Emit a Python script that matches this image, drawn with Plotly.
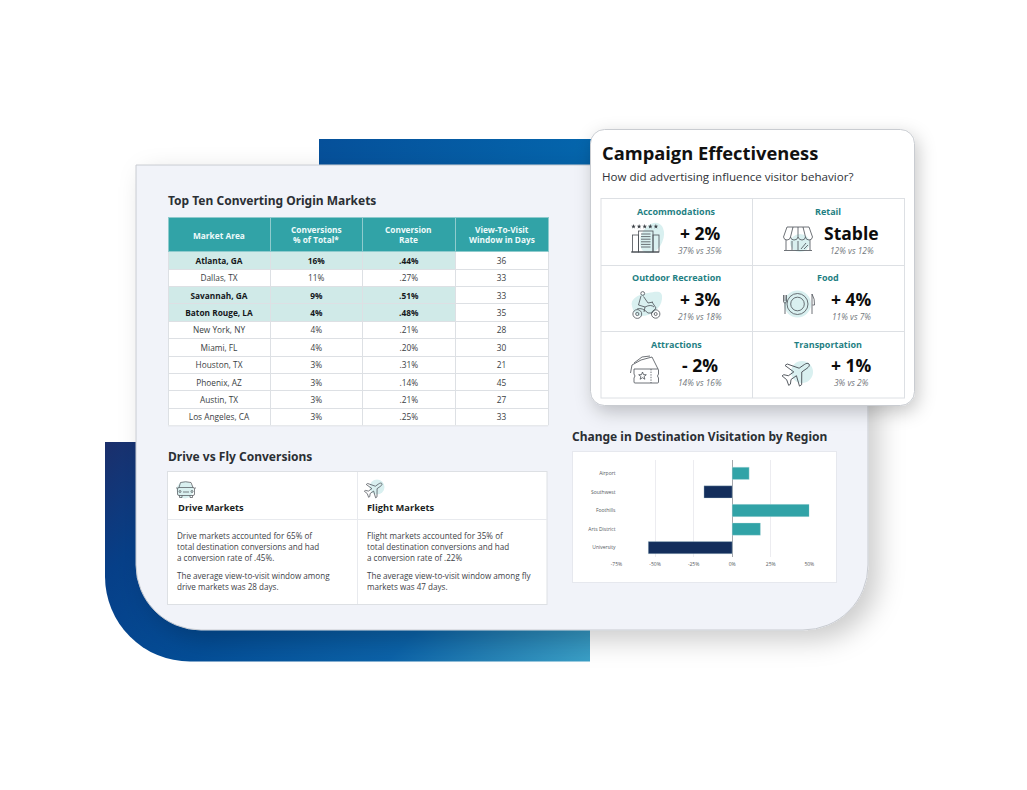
import base64
import math

import plotly.graph_objects as go

W, H = 1027, 790
FONT = "Open Sans"
TEAL = "#31a3a7"
NAVY = "#132e5c"
MINT = "#d0eae8"
LINE = "#dde0e4"
ICON = "#4a4f55"
BLOB = "#d9f0f0"
CLEAR = "rgba(0,0,0,0)"

# table
markets = ["Atlanta, GA", "Dallas, TX", "Savannah, GA", "Baton Rouge, LA", "New York, NY",
           "Miami, FL", "Houston, TX", "Phoenix, AZ", "Austin, TX", "Los Angeles, CA"]
conv_share = ["16%", "11%", "9%", "4%", "4%", "4%", "3%", "3%", "3%", "3%"]
conv_rate = [".44%", ".27%", ".51%", ".48%", ".21%", ".20%", ".31%", ".14%", ".21%", ".25%"]
view_days = ["36", "33", "33", "35", "28", "30", "21", "45", "27", "33"]
highlighted = ["Atlanta, GA", "Savannah, GA", "Baton Rouge, LA"]
table_header = [["Market Area"], ["Conversions", "% of Total*"], ["Conversion", "Rate"],
                ["View-To-Visit", "Window in Days"]]

# bar chart
regions = ["University", "Arts District", "Foothills", "Southwest", "Airport"]
region_change = [-54.4, 18.3, 50, -18.3, 11]
pct_ticks = [-75, -50, -25, 0, 25, 50]

# campaign card
card_labels = ["Accommodations", "Retail", "Outdoor Recreation", "Food", "Attractions", "Transportation"]
card_values = ["+ 2%", "Stable", "+ 3%", "+ 4%", "- 2%", "+ 1%"]
card_notes = ["37% vs 35%", "12% vs 12%", "21% vs 18%", "11% vs 7%", "14% vs 16%", "3% vs 2%"]

drive_lines = ["Drive markets accounted for 65% of", "total destination conversions and had",
               "a conversion rate of .45%.", "The average view-to-visit window among",
               "drive markets was 28 days."]
fly_lines = ["Flight markets accounted for 35% of", "total destination conversions and had",
             "a conversion rate of .22%", "The average view-to-visit window among fly",
             "markets was 47 days."]


def px(x):
    return x / W


def py(y):
    return 1 - y / H


def star(cx, cy, r):
    pts = []
    for i in range(10):
        a = -math.pi / 2 + i * math.pi / 5
        rr = r if i % 2 == 0 else r * 0.42
        pts.append(f"{cx + rr * math.cos(a):.2f},{cy + rr * math.sin(a):.2f}")
    return " ".join(pts)


PLANE = ("M0,-14 C1.6,-14 2.2,-12 2.2,-10 L2.2,-4 L12,3 L12,5.5 L2.2,2.2 L2.2,8.5 L5.5,11.5 L5.5,13.5 "
         "L0,12 L-5.5,13.5 L-5.5,11.5 L-2.2,8.5 L-2.2,2.2 L-12,5.5 L-12,3 L-2.2,-4 L-2.2,-10 C-2.2,-12 -1.6,-14 0,-14Z")


def icons_svg():
    s = []
    # hotel
    s.append(f'<ellipse cx="652" cy="238" rx="11" ry="16" transform="rotate(25 652 238)" fill="{BLOB}"/>')
    for i in range(5):
        s.append(f'<polygon points="{star(633.5 + i * 5.6, 226.5, 2.4)}" fill="#3a3f45"/>')
    g = f'<g fill="none" stroke="{ICON}" stroke-width="0.8">'
    g += '<rect x="638.5" y="231" width="14.5" height="21"/><rect x="632.5" y="235" width="6" height="17"/>'
    g += '<rect x="653" y="235" width="6" height="17"/><path d="M631,252 H659" stroke-width="1.1"/>'
    for i in range(6):
        g += f'<path d="M641,{234 + i * 2.6} H650.5"/>'
    g += '</g>'
    s.append(g)
    # retail
    s.append(f'<ellipse cx="800" cy="243" rx="10" ry="9" fill="{BLOB}"/>')
    g = f'<g fill="none" stroke="{ICON}" stroke-width="0.8">'
    g += '<path d="M787,227 H809 L812.5,237 Q812,240 809,240 Q806,240 805.5,237 Q805,240 802,240 Q799,240 798,237 Q797.5,240 794,240 Q791,240 790.5,237 Q790,240 787,240 Q784,240 783.5,237 Z"/>'
    g += '<path d="M790.5,237 L793,227 M798,237 V227 M805.5,237 L803,227"/>'
    g += '<path d="M786,240 V250 M810,240 V250 M784,250.5 H812" /><path d="M792,241 V250 M798,241 V250 M801,249 L806,243 M804,249 L808,245"/>'
    g += '</g>'
    s.append(g)
    # motorbike
    s.append(f'<path d="M632,306 C630,298 640,294 648,293 C657,291 663,290 662,299 C661,309 650,317 640,316 C635,315 633,311 632,306Z" fill="{BLOB}"/>')
    g = f'<g fill="none" stroke="{ICON}" stroke-width="0.8">'
    g += '<circle cx="637.3" cy="314" r="4.4"/><circle cx="637.3" cy="314" r="1.6"/><circle cx="655.7" cy="314" r="4.2"/><circle cx="655.7" cy="314" r="1.5"/>'
    g += '<circle cx="642.7" cy="293.5" r="1.9"/><path d="M641,296 L638.5,305 L645,307 L644,312 M643.5,296.5 L648,303 L653,302"/>'
    g += '<path d="M637,309 Q642,307 648,313 H652 L656,308 L652,302 M645,307 Q651,304 654,307"/></g>'
    s.append(g)
    # plate
    s.append(f'<circle cx="797.5" cy="304" r="13.5" fill="{BLOB}"/>')
    g = f'<g fill="none" stroke="{ICON}" stroke-width="0.8">'
    g += '<circle cx="797.5" cy="304" r="10.5"/><circle cx="797.5" cy="304" r="6.8"/>'
    g += '<path d="M783.5,295 V301 Q783.5,303 785,303 Q786.5,303 786.5,301 V295 M785,295 V301 M785,303 V314"/>'
    g += '<path d="M812,294 Q815,299 814.5,305 H812.5 M812,294 V314"/></g>'
    s.append(g)
    # tickets
    g = f'<g fill="none" stroke="{ICON}" stroke-width="0.8">'
    g += '<path d="M630.5,373 L632,365 L641,360 L652,357 L658,369"/><path d="M634,363 L642,357 L650,356"/>'
    g += '<path d="M634,369 H657.5 Q658.5,369 658.5,370 V374 Q656.5,376 658.5,378 V382 Q658.5,383 657.5,383 H635 Q634,383 634,382 V378 Q636,376 634,374Z" fill="#ffffff"/>'
    g += '<path d="M651,369 V383" stroke-dasharray="1.4 1.2"/>'
    g += f'<polygon points="{star(642.5, 376, 4)}"/></g>'
    s.append(g)
    # plane, card
    s.append(f'<circle cx="802" cy="372" r="11" fill="{BLOB}"/>')
    s.append(f'<path d="{PLANE}" transform="translate(797,372.5) rotate(55) scale(1.05)" fill="none" stroke="{ICON}" stroke-width="0.8"/>')
    # car
    s.append(f'<circle cx="185" cy="490" r="8.5" fill="{BLOB}"/>')
    g = f'<g fill="none" stroke="{ICON}" stroke-width="0.7">'
    g += '<rect x="177.5" y="487.5" width="17" height="8" rx="1.5"/><path d="M179,487.5 L180.5,482.5 Q185.5,481 191,482.5 L193,487.5 M179.5,495.5 V497.5 H182 V495.5 M190,495.5 V497.5 H192.5 V495.5"/>'
    g += '<path d="M177.5,488 H176 M194.5,488 H196 M183,492 H189"/><circle cx="180" cy="491.5" r="1"/><circle cx="192" cy="491.5" r="1"/></g>'
    s.append(g)
    # plane, drive vs fly
    s.append(f'<circle cx="377" cy="487" r="7.5" fill="{BLOB}"/>')
    s.append(f'<path d="{PLANE}" transform="translate(374,489) rotate(55) scale(0.68)" fill="none" stroke="{ICON}" stroke-width="1"/>')
    return "".join(s)


def background_svg():
    top_blue = '<linearGradient id="a" gradientUnits="userSpaceOnUse" x1="319" y1="0" x2="600" y2="0"><stop offset="0" stop-color="#05509a"/><stop offset="1" stop-color="#0466ad"/></linearGradient>'
    low_blue = ('<linearGradient id="b" gradientUnits="userSpaceOnUse" x1="105" y1="442" x2="457" y2="794">'
                '<stop offset="0" stop-color="#1b2f6b"/><stop offset=".19" stop-color="#063f88"/>'
                '<stop offset=".43" stop-color="#034d96"/><stop offset=".71" stop-color="#0b62a8"/>'
                '<stop offset=".85" stop-color="#2480b4"/><stop offset="1" stop-color="#3a9fc6"/></linearGradient>')
    shadows = ('<filter id="s1" x="-20%" y="-20%" width="140%" height="140%"><feDropShadow dx="10" dy="10" stdDeviation="13" flood-color="#000" flood-opacity=".2"/></filter>'
               '<filter id="s2" x="-20%" y="-20%" width="140%" height="140%"><feDropShadow dx="3" dy="6" stdDeviation="9" flood-color="#000" flood-opacity=".22"/></filter>')
    parts = [f'<svg xmlns="http://www.w3.org/2000/svg" width="{W}" height="{H}" viewBox="0 0 {W} {H}"><defs>{top_blue}{low_blue}{shadows}</defs>']
    parts.append('<rect x="319" y="139" width="290" height="40" fill="url(#a)"/>')
    parts.append('<path d="M105,442 H590 V661.5 H190 A85,85 0 0 1 105,576.5 Z" fill="url(#b)"/>')
    parts.append('<path d="M136,165 H868 V565 A65,65 0 0 1 803,630 H201 A65,65 0 0 1 136,565 Z" fill="#f1f3f9" stroke="#c8cbd1" stroke-width="1" filter="url(#s1)"/>')
    # white boxes behind the chart and the drive/fly text
    parts.append('<rect x="572.5" y="451.5" width="264" height="131" fill="#fff" stroke="#e6e8ee"/>')
    parts.append(f'<rect x="167.5" y="471.5" width="379.5" height="133" fill="#fff" stroke="{LINE}"/>')
    parts.append('<path d="M357.5,472 V604 M168,519.5 H547" stroke="#e8eaee" fill="none"/>')
    # bottom edge of the market table
    parts.append(f'<path d="M168,425.8 H548" stroke="{LINE}" fill="none"/>')
    # campaign card
    parts.append('<rect x="590.5" y="129.5" width="324" height="276" rx="14" fill="#fff" stroke="#c9ccd1" filter="url(#s2)"/>')
    parts.append(f'<rect x="601" y="198.5" width="303.5" height="199.5" fill="#fff" stroke="{LINE}"/>')
    parts.append(f'<path d="M752.5,198 V398 M601,265.5 H904 M601,331.5 H904" stroke="{LINE}" fill="none"/>')
    parts.append(icons_svg())
    parts.append("</svg>")
    return "data:image/svg+xml;base64," + base64.b64encode("".join(parts).encode()).decode()


notes = []


def label(x, y, text, size, color="#33373c", weight=400, anchor="left", style="normal", family=FONT):
    notes.append(dict(x=px(x), y=py(y), xref="paper", yref="paper", text=text, showarrow=False,
                      xanchor=anchor, yanchor="middle", borderpad=0,
                      font=dict(size=size, color=color, family=family, weight=weight, style=style)))


label(167, 200.7, "Top Ten Converting Origin Markets", 12, "#2b2f34", weight=700, family="Noto Sans")
label(167, 456.7, "Drive vs Fly Conversions", 12, "#2b2f34", weight=700, family="Noto Sans")
label(571, 436.7, "Change in Destination Visitation by Region", 12, "#2b2f34", weight=700, family="Noto Sans")
label(601, 152.5, "Campaign Effectiveness", 18.3, "#111111", weight=700)
label(601, 176.2, "How did advertising influence visitor behavior?", 11.6, "#2f3338")

# table header text goes in annotations: a two line header cell grows past the wanted height
header_x = [219, 316.25, 408.75, 501.5]
for xx, lines in zip(header_x, table_header):
    ys = [235] if len(lines) == 1 else [229.5, 239.7]
    for yy, text in zip(ys, lines):
        label(xx, yy, text, 8.3, "#eefafa", weight=700, anchor="center")

label(176.5, 507, "Drive Markets", 9.3, "#1c1f23", weight=700)
label(366, 507, "Flight Markets", 9.3, "#1c1f23", weight=700)
line_y = [535, 546, 557.4, 575.3, 586.7]
for yy, a, b in zip(line_y, drive_lines, fly_lines):
    label(176.3, yy, a, 8.1, "#3e4247")
    label(366, yy, b, 8.1, "#3e4247")

label_x = [676.7, 828.3]
value_x = [700, 851.5]
row_y = [211.7, 277.7, 344]
for i, (name, val, note) in enumerate(zip(card_labels, card_values, card_notes)):
    col, row = i % 2, i // 2
    label(label_x[col], row_y[row], name, 9, "#1f7f83", weight=700, anchor="center")
    label(value_x[col], row_y[row] + 21, val, 17.5, "#0c0c0c", weight=700, anchor="center")
    label(value_x[col], row_y[row] + 38.5, note, 8.4, "#74787d", style="italic", anchor="center")

row_fill = [MINT if m in highlighted else "#ffffff" for m in markets]
white_col = ["#ffffff"] * len(markets)
is_hi = [m in highlighted for m in markets]
blank_col = [""] * len(markets)

COL_W = [102, 92.5, 92.5, 93]
HEAD_H = 34.4
ROW_H = 17.4


def text_table(columns, color, weight):
    # clear table for text only, lifted a little because cell text sits low in short rows
    return go.Table(
        domain=dict(x=[px(168), px(548)], y=[py(423.8), py(215.1)]), columnwidth=COL_W,
        header=dict(values=["", "", "", ""], fill_color=CLEAR, height=HEAD_H, line=dict(color=CLEAR, width=0)),
        cells=dict(values=columns, fill_color=CLEAR, height=ROW_H, align="center",
                   line=dict(color=CLEAR, width=0),
                   font=dict(family=FONT, size=8.3, color=color, weight=weight)),
    )


grid_table = go.Table(
    domain=dict(x=[px(168), px(548)], y=[py(426), py(217.3)]), columnwidth=COL_W,
    header=dict(values=["", "", "", ""], fill_color=TEAL, height=HEAD_H, line=dict(color="#8fcbcd", width=1)),
    cells=dict(values=[blank_col] * 4, fill_color=[row_fill, row_fill, row_fill, white_col], height=ROW_H,
               line=dict(color=LINE, width=1)),
)
# plotly only takes one weight per column, so bold rows and plain rows are separate tables
plain_table = text_table(
    [[("" if hi else v) for v, hi in zip(col, is_hi)] for col in (markets, conv_share, conv_rate)] + [view_days],
    "#3a3e43", 400)
bold_table = text_table(
    [[(v if hi else "") for v, hi in zip(col, is_hi)] for col in (markets, conv_share, conv_rate)] + [blank_col],
    "#15181b", 700)

bars = go.Bar(
    x=region_change, y=regions, orientation="h",
    marker=dict(color=[TEAL if v > 0 else NAVY for v in region_change],
                line=dict(color="rgba(200,225,230,0.7)", width=0.5)),
    hoverinfo="skip",
)

fig = go.Figure([grid_table, plain_table, bold_table, bars])
fig.update_layout(
    width=W, height=H, margin=dict(l=0, r=0, t=0, b=0, autoexpand=False), paper_bgcolor="#ffffff",
    plot_bgcolor=CLEAR, showlegend=False, bargap=0.34,
    annotations=notes,
    images=[dict(source=background_svg(), xref="paper", yref="paper", x=0, y=1, sizex=1, sizey=1,
                 xanchor="left", yanchor="top", sizing="stretch", layer="below")],
    xaxis=dict(domain=[px(616.5), px(809.3)], range=[-75, 50], tickvals=pct_ticks,
               ticktext=[f"{t}%" for t in pct_ticks], showgrid=True, gridcolor="#ececf0", gridwidth=1,
               zeroline=True, zerolinecolor="#a5a8ad", zerolinewidth=1, showline=False, ticks="",
               tickfont=dict(family=FONT, size=5, color="#55595e"), ticklabelstandoff=3),
    yaxis=dict(domain=[py(557), py(460.3)], range=[-0.5, 4.7], type="category", showgrid=False,
               zeroline=False, showline=False, ticks="", categoryorder="array", categoryarray=regions,
               tickfont=dict(family=FONT, size=5, color="#55595e")),
)

fig.write_html("out.html", config=dict(displayModeBar=False),
               post_script="document.body.style.margin='0';document.body.style.overflow='hidden';")
